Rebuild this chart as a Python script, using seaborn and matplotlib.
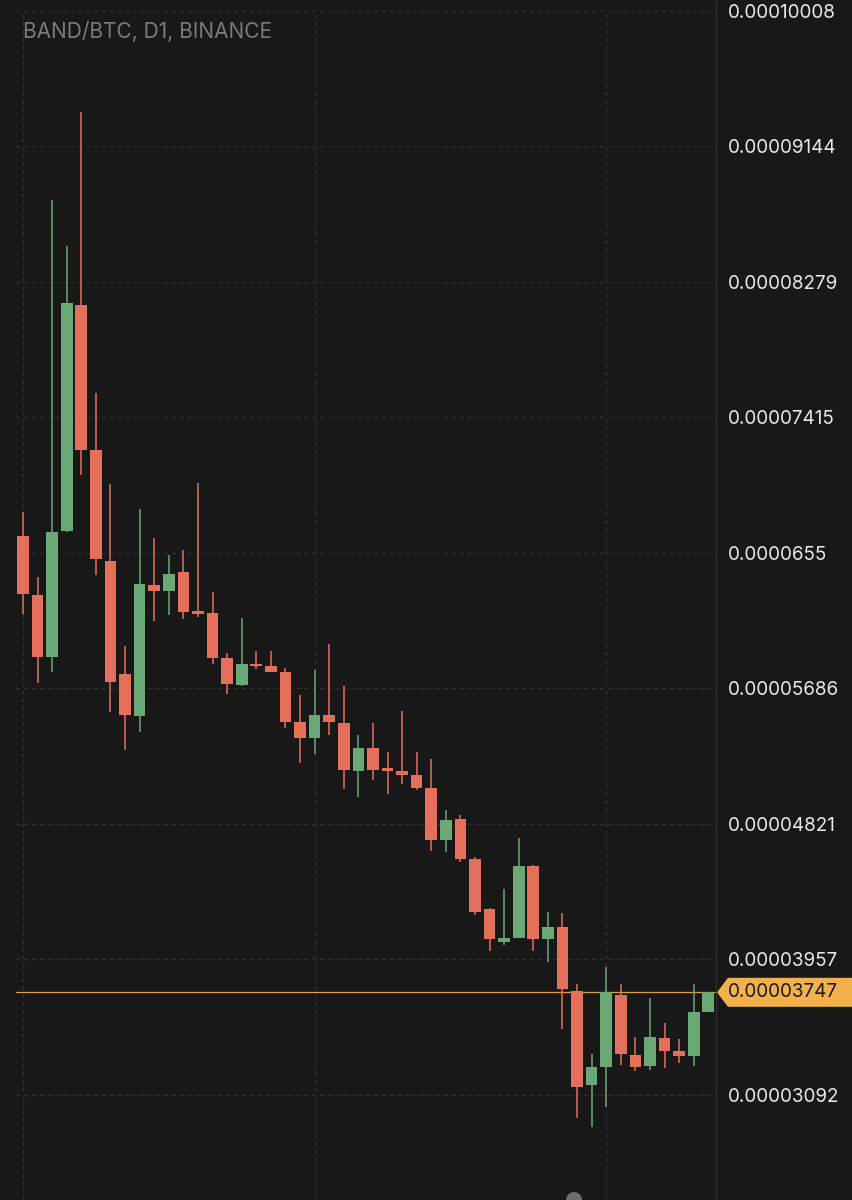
import numpy as np
import pandas as pd
import seaborn as sns
import matplotlib
matplotlib.use("Agg")
import matplotlib.pyplot as plt
from matplotlib.patches import Polygon, Ellipse
from matplotlib.transforms import blended_transform_factory

# ---------------- data (BAND/BTC daily candles) ----------------
opens = [0.00006654, 0.00006283, 0.00005888, 0.00006690, 0.00008127, 0.00007204,
         0.00006495, 0.00005778, 0.00005509, 0.00006346, 0.00006306, 0.00006425,
         0.00006177, 0.00006164, 0.00005880, 0.00005708, 0.00005841, 0.00005831,
         0.00005789, 0.00005470, 0.00005370, 0.00005517, 0.00005464, 0.00005158,
         0.00005307, 0.00005173, 0.00005158, 0.00005133, 0.00005050, 0.00004717,
         0.00004855, 0.00004596, 0.00004277, 0.00004070, 0.00004095, 0.00004554,
         0.00004086, 0.00004161, 0.00003758, 0.00003153, 0.00003270, 0.00003730,
         0.00003348, 0.00003274, 0.00003454, 0.00003373, 0.00003340, 0.00003620]
highs = [0.00006807, 0.00006393, 0.00008802, 0.00008504, 0.00009360, 0.00007571,
         0.00006987, 0.00005958, 0.00006828, 0.00006642, 0.00006535, 0.00006569,
         0.00006998, 0.00006298, 0.00005911, 0.00006134, 0.00005922, 0.00005922,
         0.00005814, 0.00005646, 0.00005805, 0.00005969, 0.00005703, 0.00005385,
         0.00005466, 0.00005279, 0.00005540, 0.00005281, 0.00005237, 0.00004908,
         0.00004876, 0.00004611, 0.00004282, 0.00004405, 0.00004734, 0.00004560,
         0.00004256, 0.00004250, 0.00003798, 0.00003354, 0.00003911, 0.00003802,
         0.00003459, 0.00003709, 0.00003550, 0.00003448, 0.00003798, 0.00003747]
lows = [0.00006162, 0.00005719, 0.00005789, 0.00006680, 0.00007045, 0.00006410,
        0.00005534, 0.00005290, 0.00005407, 0.00006117, 0.00006155, 0.00006128,
        0.00006143, 0.00005841, 0.00005650, 0.00005703, 0.00005810, 0.00005789,
        0.00005432, 0.00005211, 0.00005264, 0.00005389, 0.00005046, 0.00004993,
        0.00005099, 0.00005014, 0.00005073, 0.00005035, 0.00004647, 0.00004643,
        0.00004579, 0.00004239, 0.00004010, 0.00004048, 0.00004091, 0.00004010,
        0.00003940, 0.00003512, 0.00002945, 0.00002886, 0.00003013, 0.00003284,
        0.00003246, 0.00003252, 0.00003263, 0.00003295, 0.00003274, 0.00003620]
closes = [0.00006285, 0.00005888, 0.00006680, 0.00008140, 0.00007204, 0.00006510,
          0.00005725, 0.00005517, 0.00006351, 0.00006306, 0.00006416, 0.00006171,
          0.00006160, 0.00005878, 0.00005710, 0.00005841, 0.00005827, 0.00005789,
          0.00005470, 0.00005370, 0.00005517, 0.00005470, 0.00005162, 0.00005307,
          0.00005162, 0.00005160, 0.00005135, 0.00005050, 0.00004717, 0.00004844,
          0.00004596, 0.00004256, 0.00004084, 0.00004095, 0.00004554, 0.00004084,
          0.00004161, 0.00003768, 0.00003144, 0.00003268, 0.00003747, 0.00003352,
          0.00003270, 0.00003465, 0.00003373, 0.00003338, 0.00003622, 0.00003747]

tick_values = [0.00010008, 0.00009144, 0.00008279, 0.00007415, 0.0000655,
               0.00005686, 0.00004821, 0.00003957, 0.00003092]
tick_labels = ["0.00010008", "0.00009144", "0.00008279", "0.00007415", "0.0000655",
               "0.00005686", "0.00004821", "0.00003957", "0.00003092"]
last_price = 0.00003747
last_price_label = "0.00003747"
title = "BAND/BTC, D1, BINANCE"

df = pd.DataFrame({"open": opens, "high": highs, "low": lows, "close": closes})
df["idx"] = np.arange(len(df))
df["up"] = df["close"] >= df["open"]

# ---------------- style ----------------
BG = "#181818"
GREEN = "#6aa875"
RED = "#e4705b"
GRID = "#343434"
ORANGE = "#f3b04b"

sns.set_theme(style="dark", rc={"axes.facecolor": BG, "figure.facecolor": BG})
plt.rcParams["font.family"] = ["Inter", "DejaVu Sans"]

W, H = 852, 1200
fig = plt.figure(figsize=(W / 100, H / 100), dpi=100)
ax = fig.add_axes([0, 0, 716 / W, 1])
ax.set_facecolor(BG)

ymin, ymax = 0.000024226, 0.00010075
xmin, xmax = -1.577, 47.53
ax.set_xlim(xmin, xmax)
ax.set_ylim(ymin, ymax)
px = (ymax - ymin) / H

# grid lines (dashed)
top_frac = (H - 10.5) / H
for tv in tick_values:
    ax.axhline(tv, xmin=16 / 716, xmax=1, color=GRID, lw=0.8,
               ls=(0, (3.5, 3.5)), zorder=0)
for gx in [0, 20, 40]:
    ax.axvline(gx, ymin=0, ymax=top_frac, color=GRID, lw=0.8,
               ls=(0, (3.5, 3.5)), zorder=0)

# current price line
ax.axhline(last_price, xmin=16 / 716, xmax=1, color="#d9a343", lw=0.9, zorder=1)

# candles
colors = np.where(df["up"], GREEN, RED)
ax.vlines(df["idx"], df["low"], df["high"], colors=colors, lw=1.1, zorder=2)
body_bottom = np.minimum(df["open"], df["close"])
body_h = np.maximum(np.abs(df["close"] - df["open"]), 2.5 * px)
ax.bar(df["idx"], body_h, bottom=body_bottom, width=0.8, color=colors,
       edgecolor="none", zorder=3)

# axes cosmetics
for s in ["top", "left", "bottom"]:
    ax.spines[s].set_visible(False)
ax.spines["right"].set_visible(True)
ax.spines["right"].set_color("#2e2e2e")
ax.spines["right"].set_linewidth(1.0)
ax.set_xticks([])
ax.yaxis.tick_right()
ax.set_yticks(tick_values)
ax.set_yticklabels(tick_labels)
ax.tick_params(axis="y", length=0, pad=8.6, labelsize=13.6, colors="#e8e8e8")
ax.grid(False)

# title
ax.text(23 / 716, 1 - 31 / H, title, transform=ax.transAxes, ha="left",
        va="center", fontsize=15, color="#7b7b7b")

# price tag on the axis
tr = blended_transform_factory(ax.transAxes, ax.transData)
h = 14.5 * px
x0 = 717 / 716
x1 = 728 / 716
x2 = W / 716
tag = Polygon([[x0, last_price], [x1, last_price + h], [x2, last_price + h],
               [x2, last_price - h], [x1, last_price - h]],
              closed=True, transform=tr, facecolor=ORANGE, edgecolor="none",
              clip_on=False, zorder=5)
ax.add_patch(tag)
ax.text(728 / 716, last_price, last_price_label, transform=tr, ha="left",
        va="center", fontsize=13.6, color="#1a1a1a", zorder=6, clip_on=False)

# small cut-off icon at the bottom edge
fig.patches.append(Ellipse((574 / W, 0), 16 / W, 16 / H, transform=fig.transFigure,
                           facecolor="#6e6e6e", edgecolor="none"))

fig.savefig("out.png", dpi=100, facecolor=BG)
